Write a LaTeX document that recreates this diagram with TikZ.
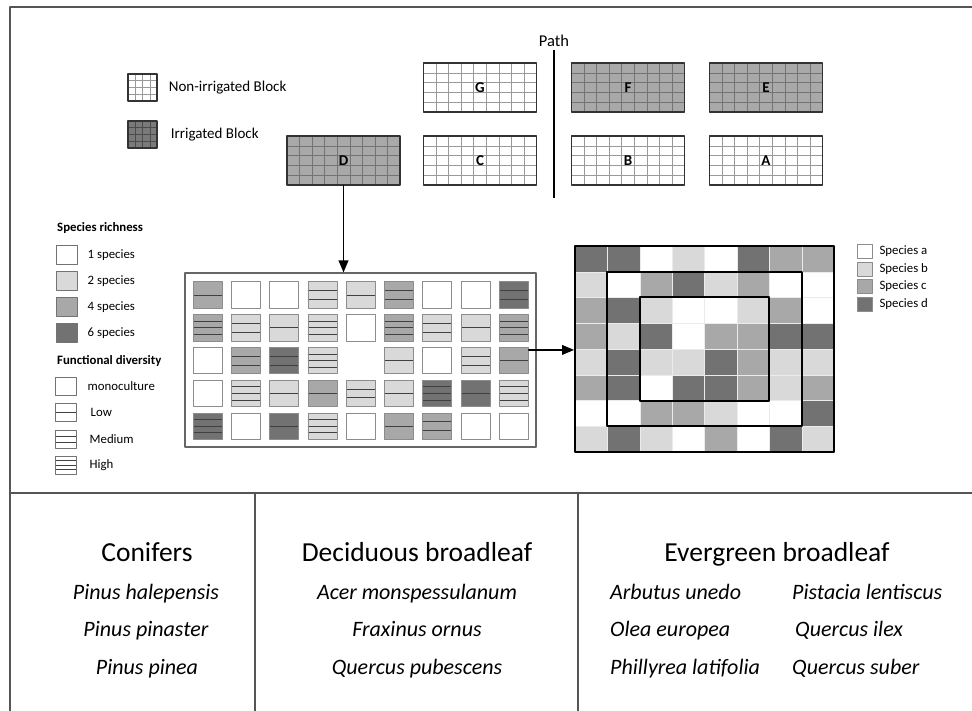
\documentclass[tikz,border=0pt]{standalone}
\usepackage{fontspec}
\setmainfont{Carlito}
\usetikzlibrary{arrows,calc,positioning}
\definecolor{frameline}{HTML}{555555}
\definecolor{spa}{HTML}{FFFFFF}
\definecolor{spb}{HTML}{D9D9D9}
\definecolor{spc}{HTML}{A8A8A8}
\definecolor{spd}{HTML}{727272}
\definecolor{irrig}{HTML}{A9A9A9}
\definecolor{irrigdark}{HTML}{7A7A7A}
\tikzset{
  frame/.style={draw=frameline,line width=1.6pt},
  gridline/.style={draw=black!40,line width=0.5pt},
  cellgrid/.style n args={2}{path picture={
      \pgfmathtruncatemacro\ncol{#1-1}
      \pgfmathtruncatemacro\nrow{#2-1}
      \foreach \k in {1,...,\ncol}
        \draw[gridline] ($(path picture bounding box.north west)!\k/#1!(path picture bounding box.north east)$) -- ($(path picture bounding box.south west)!\k/#1!(path picture bounding box.south east)$);
      \foreach \k in {1,...,\nrow}
        \draw[gridline] ($(path picture bounding box.north west)!\k/#2!(path picture bounding box.south west)$) -- ($(path picture bounding box.north east)!\k/#2!(path picture bounding box.south east)$);
  }},
  divline/.style={draw=black!75,line width=0.9pt},
  fdlines/.style={path picture={\ifnum#1>0
      \foreach \k in {1,...,#1}
        \draw[divline] ($(path picture bounding box.north west)!\k/(#1+1)!(path picture bounding box.south west)$) -- ($(path picture bounding box.north east)!\k/(#1+1)!(path picture bounding box.south east)$);
      \fi}},
  block/.style={draw=black!80,line width=1.5pt,fill=white,minimum width=113,minimum height=49,inner sep=0pt,cellgrid={9}{5},font=\bfseries\fontsize{15}{18}\selectfont},
  legendblock/.style={draw=black!80,line width=1.3pt,fill=white,minimum width=29,minimum height=27,inner sep=0pt,cellgrid={4}{4}},
  blocktext/.style={inner sep=0pt,font=\fontsize{15}{18}\selectfont},
  pathline/.style={draw=black,line width=2.8pt,line cap=butt},
  headtext/.style={inner sep=0pt,anchor=west,font=\bfseries\fontsize{12.8}{15}\selectfont},
  keytext/.style={inner sep=0pt,font=\fontsize{12.8}{15}\selectfont},
  keybox/.style={draw=black!55,line width=1pt,minimum width=21,minimum height=19,inner sep=0pt},
  fdbox/.style={draw=black!55,line width=1pt,fill=white,minimum width=21,minimum height=18,inner sep=0pt},
  plotframe/.style={draw=black!60,line width=1.3pt,minimum width=351,minimum height=174,inner sep=0pt},
  plotcell/.style={draw=black!45,line width=0.8pt,minimum width=29,minimum height=26.5,inner sep=0pt},
  mixframe/.style={draw=black,line width=2pt,inner sep=0pt},
  spkey/.style={draw=black!45,line width=0.8pt,minimum width=15,minimum height=14,inner sep=0pt},
  arrowline/.style={->,draw=black,line width=1.8pt},
  grouptext/.style={inner sep=0pt,anchor=base,font=\fontsize{27.5}{32}\selectfont},
  taxon/.style={inner sep=0pt,anchor=base,font=\itshape\fontsize{22}{26}\selectfont}
}
\begin{document}
\begin{tikzpicture}[line cap=round,line join=round,>=triangle 45,x=1pt,y=-1pt]
\path[use as bounding box,fill=white] (0,0) rectangle (972,711);
\draw[frame] (10,711) -- (10,7) -- (972,7);
\draw[frame] (10,493) -- (972,493);
\draw[frame] (255,493) -- (255,711);
\draw[frame] (578,493) -- (578,711);

\node[legendblock] (keyN) at (142.5,87.5) {};
\node[blocktext,right=11pt of keyN] (keyNtxt) {Non-irrigated Block};
\node[legendblock,fill=irrigdark,gridline/.append style={draw=black!70}] (keyI) at (142.5,134.5) {};
\node[blocktext,right=13pt of keyI] (keyItxt) {Irrigated Block};

\node[block] (blkG) at (480,87.5) {G};
\node[block] (blkC) at (480,160.5) {C};
\node[block,fill=irrig,gridline/.append style={draw=black!55}] (blkF) at (628,87.5) {F};
\node[block] (blkB) at (628,160.5) {B};
\node[block,fill=irrig,gridline/.append style={draw=black!55}] (blkE) at (766,87.5) {E};
\node[block] (blkA) at (766,160.5) {A};
\node[block,fill=irrig,gridline/.append style={draw=black!55}] (blkD) at (343.5,160.5) {D};

\node[blocktext,font=\fontsize{16.5}{19}\selectfont] (pathlbl) at (554,41) {Path};
\draw[pathline] (554,50) -- (554,198);

\node[headtext] (richhead) at (57,228) {Species richness};
\foreach \n/\f/\y in {1/spa/255.5,2/spb/281.5,4/spc/307,6/spd/333}{
  \node[keybox,fill=\f] (rich-\n) at (66.5,\y) {};
  \node[keytext,right=10pt of rich-\n] (richtxt-\n) {\n\ species};
}
\node[headtext] (fdhead) at (57,361) {Functional diversity};
\foreach \lvl/\lab/\y/\gap in {0/monoculture/386/11pt,1/Low/412.5/14pt,2/Medium/439/13pt,3/High/465/13pt}{
  \node[fdbox,fdlines=\lvl] (fd-\lvl) at (65.5,\y) {};
  \node[keytext,right=\gap of fd-\lvl] (fdtxt-\lvl) {\lab};
}

\node[plotframe] (plotD) at (360.5,360) {};
\foreach \r/\c/\f/\n in {1/1/spc/1,1/2/spa/0,1/3/spa/0,1/4/spb/2,1/5/spb/1,1/6/spc/2,1/7/spa/0,1/8/spa/0,1/9/spd/2,
    2/1/spc/3,2/2/spb/2,2/3/spb/1,2/4/spb/3,2/5/spa/0,2/6/spc/3,2/7/spb/2,2/8/spb/1,2/9/spc/3,
    3/1/spa/0,3/2/spc/2,3/3/spd/2,3/4/spb/3,3/6/spb/1,3/7/spa/0,3/8/spb/2,3/9/spc/1,
    4/1/spa/0,4/2/spb/3,4/3/spb/1,4/4/spc/1,4/5/spb/2,4/6/spb/1,4/7/spd/3,4/8/spd/1,4/9/spb/3,
    5/1/spd/3,5/2/spa/0,5/3/spd/1,5/4/spb/3,5/5/spa/0,5/6/spc/1,5/7/spc/2,5/8/spa/0,5/9/spa/0}
  \node[plotcell,fill=\f,fdlines=\n] (c-\r-\c) at ({207.5+(\c-1)*38.3},{295+(\r-1)*32.8}) {};

\foreach \rowcol [count=\r] in {{d,d,a,b,a,d,c,c},{b,a,c,d,b,c,a,a},{c,d,b,a,a,b,c,a},{c,b,d,a,c,c,d,d},
    {b,d,b,b,d,c,b,b},{c,d,a,d,d,c,b,c},{a,a,c,c,b,a,a,d},{b,d,b,a,c,a,d,b}}{
  \foreach \s [count=\c] in \rowcol
    \path[fill=sp\s,draw=black!8,line width=0.4pt] ({575+(\c-1)*32.4},{246+(\r-1)*25.75}) rectangle ++(32.4,25.75);
}
\node[mixframe,minimum width=259.2,minimum height=206] (mix) at (704.6,349) {};
\node[mixframe,minimum width=194.4,minimum height=154.5] (mixmid) at (704.6,349) {};
\node[mixframe,minimum width=129.6,minimum height=103] (mixin) at (704.6,349) {};

\draw[arrowline] (blkD.south) -- (blkD.south |- plotD.north);
\coordinate (cellout) at ([yshift=-3pt]c-3-9.north east);
\draw[arrowline] (cellout) -- (cellout -| mix.west);

\foreach \s/\y in {a/251.5,b/269,c/286.5,d/304}{
  \node[spkey,fill=sp\s] (key-\s) at (864.5,\y) {};
  \node[keytext,right=7pt of key-\s] (keytxt-\s) {Species \s};
}

\node[grouptext] (conif) at (147,561) {Conifers};
\node[taxon] (pinhal) at (146,599) {Pinus halepensis};
\node[taxon] (pinpin) at (146,636) {Pinus pinaster};
\node[taxon] (pinpinea) at (147,674) {Pinus pinea};

\node[grouptext] (decid) at (417,561) {Deciduous broadleaf};
\node[taxon] (acemon) at (417,599) {Acer monspessulanum};
\node[taxon] (fraorn) at (417,636) {Fraxinus ornus};
\node[taxon] (quepub) at (417,674) {Quercus pubescens};

\node[grouptext] (everg) at (777,561) {Evergreen broadleaf};
\node[taxon,anchor=base west] (arbune) at (610,599) {Arbutus unedo};
\node[taxon,anchor=base west] (oleeur) at (610,636) {Olea europea};
\node[taxon,anchor=base west] (philat) at (610,674) {Phillyrea latifolia};
\node[taxon,anchor=base west] (pislen) at (792,599) {Pistacia lentiscus};
\node[taxon,anchor=base west] (queile) at (795,636) {Quercus ilex};
\node[taxon,anchor=base west] (quesub) at (792,674) {Quercus suber};
\end{tikzpicture}
\end{document}
